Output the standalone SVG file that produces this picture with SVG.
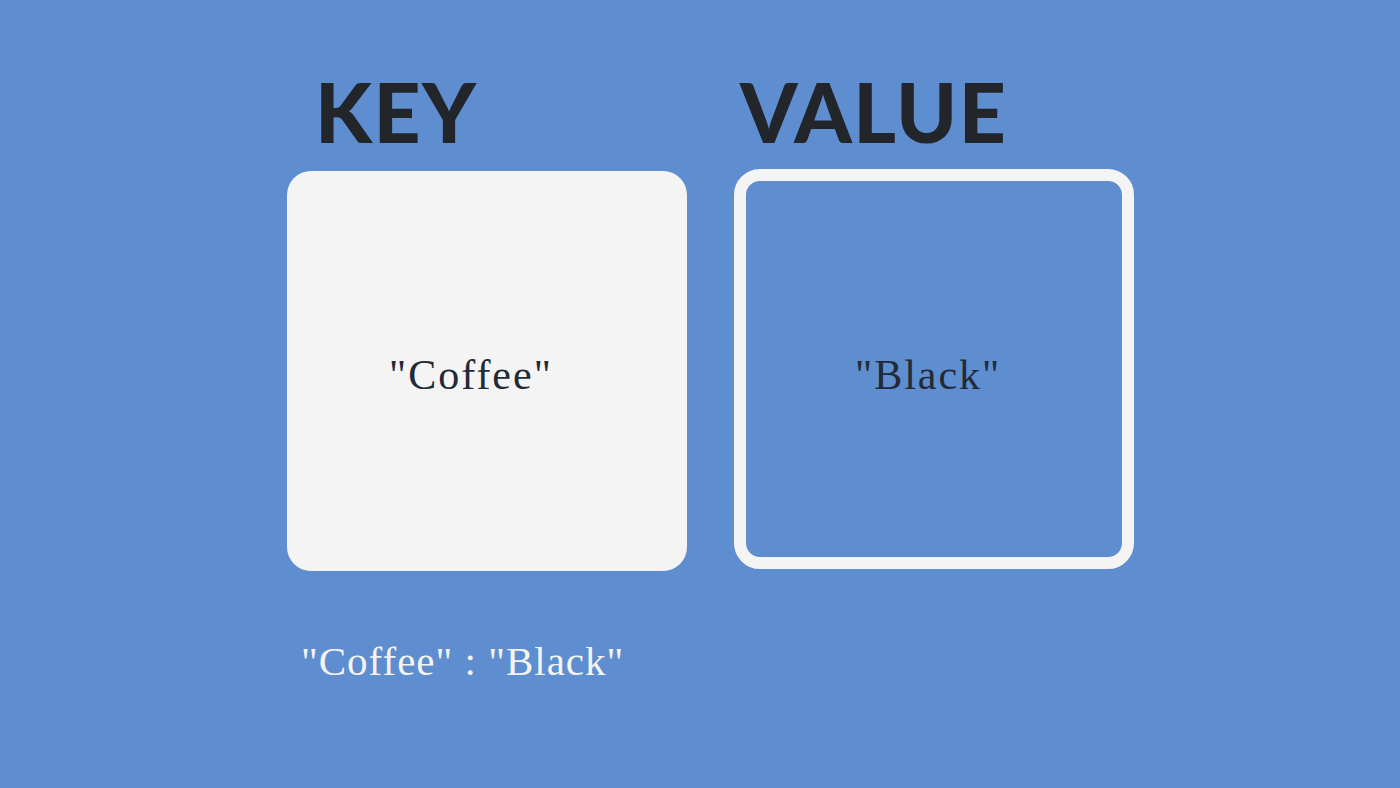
<svg xmlns="http://www.w3.org/2000/svg" width="1400" height="788" viewBox="0 0 1400 788">
<style>
.head{font-family:"Lato","Liberation Sans",sans-serif;font-weight:900;font-size:82px;fill:#22262b;letter-spacing:1.5px}
.val{font-family:"Liberation Serif",serif;font-size:42px;fill:#222a35;letter-spacing:2px}
.foot{font-family:"Liberation Serif",serif;font-size:41px;fill:#f4f4f4;letter-spacing:1px}
</style>
<rect width="1400" height="788" fill="#5e8ecf"/>
<g id="key-title"><text class="head" x="315" y="143">KEY</text></g>
<g id="value-title"><text class="head" x="740" y="143">VALUE</text></g>
<g id="key-box">
<rect x="287" y="171" width="400" height="400" rx="24" fill="#f4f4f4"/>
<text class="val" x="389" y="389">"Coffee"</text>
</g>
<g id="value-box">
<rect x="740" y="175" width="388" height="388" rx="20" fill="none" stroke="#f4f4f4" stroke-width="12"/>
<text class="val" x="855" y="389">"Black"</text>
</g>
<g id="connectors"></g>
<g id="pair"><text class="foot" x="301" y="675">"Coffee" : "Black"</text></g>
</svg>
